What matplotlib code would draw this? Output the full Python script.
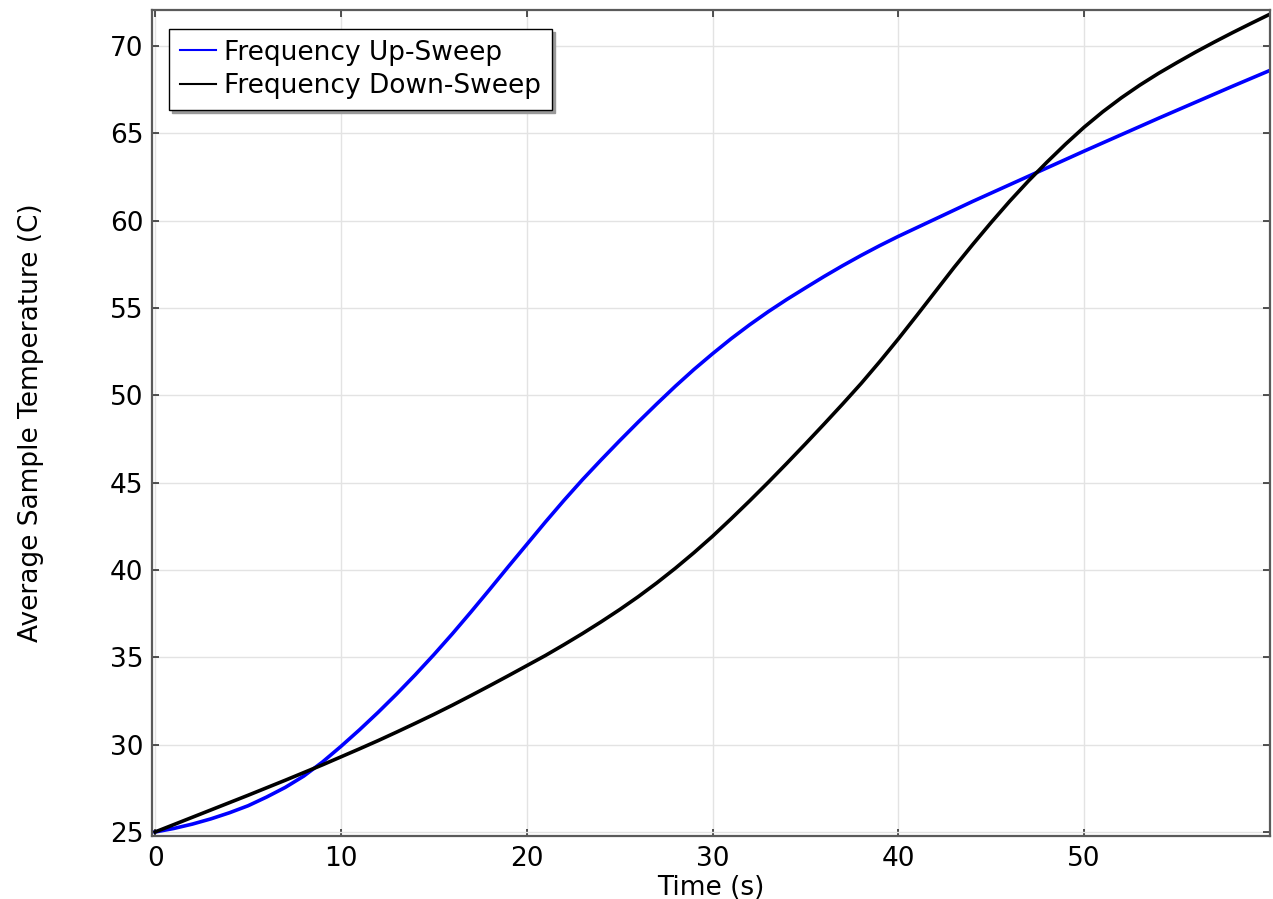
import matplotlib
matplotlib.use('Agg')
import matplotlib.pyplot as plt
from matplotlib.lines import Line2D

# 시간 (s), 1초 간격
time = list(range(0, 61))
# 주파수 상승 스윕 평균 온도 (C)
up_sweep = [25.0, 25.2, 25.45, 25.75, 26.1, 26.5, 27.0, 27.55, 28.2, 29.0,
            29.9, 30.85, 31.85, 32.9, 34.0, 35.15, 36.35, 37.6, 38.88, 40.18,
            41.46, 42.74, 43.98, 45.17, 46.3, 47.4, 48.47, 49.51, 50.52, 51.48,
            52.38, 53.24, 54.04, 54.79, 55.49, 56.15, 56.8, 57.42, 58.01, 58.57,
            59.1, 59.6, 60.1, 60.6, 61.1, 61.58, 62.06, 62.54, 63.02, 63.5,
            63.98, 64.45, 64.92, 65.39, 65.86, 66.32, 66.78, 67.24, 67.7, 68.15,
            68.6]
# 주파수 하강 스윕 평균 온도 (C)
down_sweep = [25.0, 25.42, 25.84, 26.26, 26.68, 27.1, 27.53, 27.96, 28.4, 28.84,
              29.3, 29.76, 30.23, 30.72, 31.22, 31.73, 32.26, 32.81, 33.37, 33.94,
              34.52, 35.1, 35.72, 36.36, 37.03, 37.73, 38.47, 39.26, 40.1, 40.99,
              41.93, 42.93, 43.96, 45.02, 46.11, 47.22, 48.35, 49.5, 50.68, 51.93,
              53.23, 54.58, 55.95, 57.32, 58.63, 59.9, 61.12, 62.27, 63.35, 64.38,
              65.35, 66.23, 67.03, 67.76, 68.43, 69.05, 69.65, 70.22, 70.77, 71.3,
              71.82]

series_names = ['Frequency Up-Sweep', 'Frequency Down-Sweep']
series_colors = ['#0000ff', '#000000']

x_ticks = [0, 10, 20, 30, 40, 50, 60]
x_tick_labels = ['0', '10', '20', '30', '40', '50', '']
y_ticks = [25, 30, 35, 40, 45, 50, 55, 60, 65, 70]

fig = plt.figure(figsize=(12.73, 8.99), dpi=100)
ax = fig.add_axes([0.1194, 0.0701, 0.8782, 0.9188])

ax.plot(time, up_sweep, color=series_colors[0], lw=2.6)
ax.plot(time, down_sweep, color=series_colors[1], lw=2.6)

ax.set_xlim(-0.17, 60.0)
ax.set_ylim(24.77, 72.06)
ax.set_xticks(x_ticks)
ax.set_xticklabels(x_tick_labels)
ax.set_yticks(y_ticks)

# 격자 / 축 스타일
ax.grid(True, color='#e3e3e3', lw=1.0)
ax.set_axisbelow(True)
for s in ax.spines.values():
    s.set_color('#5a5a5a')
    s.set_linewidth(1.6)
ax.tick_params(direction='in', length=5, width=1.1, color='#222222',
               top=True, right=True, labelsize=19)
ax.tick_params(axis='x', pad=7)
ax.tick_params(axis='y', pad=6)

ax.set_xlabel('Time (s)', fontsize=19)
ax.xaxis.set_label_coords(0.5, -0.047)
ax.set_ylabel('Average Sample Temperature (C)', fontsize=19)
ax.yaxis.set_label_coords(-0.097, 0.5)

# 범례 (얇은 선)
handles = [Line2D([], [], color=c, lw=1.5) for c in series_colors]
leg = ax.legend(handles, series_names, loc='upper left', fontsize=19,
                fancybox=False, shadow={'color': '#999999', 'alpha': 1.0},
                framealpha=1, edgecolor='#000000', handlelength=1.4,
                handletextpad=0.3, borderpad=0.4, labelspacing=0.3,
                borderaxespad=0.0, bbox_to_anchor=(0.0152, 0.977))
leg.get_frame().set_linewidth(1.0)

plt.savefig('out.png', dpi=100)
